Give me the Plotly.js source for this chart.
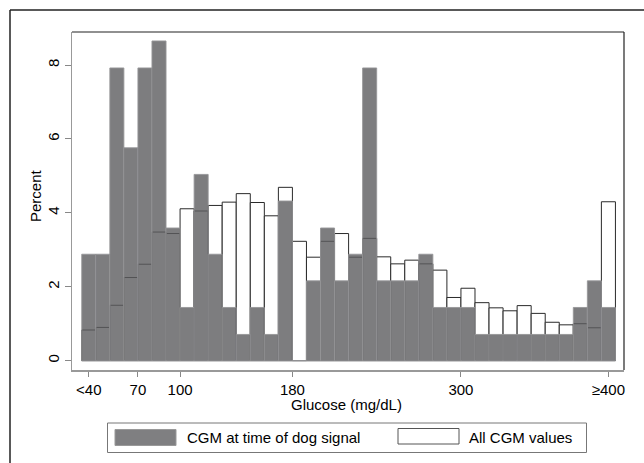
<!DOCTYPE html>
<html>
<head>
<meta charset="utf-8">
<script src="https://cdn.plot.ly/plotly-3.0.1.min.js"></script>
<style>
  html, body { margin: 0; padding: 0; background: #fff; }
  #chart { width: 644px; height: 463px; }
</style>
</head>
<body>
<div id="chart"></div>
<script>
// Bin centres (mg/dL), 10 mg/dL bins from 30 to 410
const binCenters = [35,45,55,65,75,85,95,105,115,125,135,145,155,165,175,185,195,205,215,225,235,245,255,265,275,285,295,305,315,325,335,345,355,365,375,385,395,405];

// Percent of CGM values at time of dog signal
const dogSignalPct = [2.88,2.88,7.92,5.76,7.92,8.65,3.59,1.44,5.04,2.88,1.44,0.71,1.44,0.71,4.32,0,2.16,3.59,2.16,2.88,7.92,2.16,2.16,2.16,2.88,1.44,1.44,1.44,0.71,0.71,0.71,0.71,0.71,0.71,0.71,1.44,2.16,1.44];

// Percent of all CGM values
const allCgmPct = [0.83,0.90,1.50,2.25,2.61,3.48,3.44,4.11,4.05,4.20,4.29,4.52,4.28,3.92,4.69,3.23,2.80,3.23,3.44,2.80,3.31,2.81,2.62,2.72,2.62,2.45,1.71,1.96,1.57,1.43,1.35,1.49,1.28,1.04,0.97,1.00,0.89,4.30];

const xTickVals = [35,70,100,180,300,405];
const xTickText = ['<40','70','100','180','300','≥400'];
const yTickVals = [0,2,4,6,8];

const seriesNames = ['CGM at time of dog signal','All CGM values'];
const xTitle = 'Glucose (mg/dL)';
const yTitle = 'Percent';

const FONT = 'Arial, "Liberation Sans", Helvetica, sans-serif';
const darkFill = 'rgba(92,92,95,0.8)';
const darkSolid = '#7f7f81';

const traces = [
  {
    type: 'bar', name: seriesNames[1], x: binCenters, y: allCgmPct, width: 10,
    marker: { color: '#ffffff', line: { color: '#2a2a2a', width: 1 } },
    showlegend: false, hoverinfo: 'x+y'
  },
  {
    type: 'bar', name: seriesNames[0], x: binCenters, y: dogSignalPct, width: 10,
    marker: { color: darkFill, line: { color: 'rgba(150,150,152,0.9)', width: 1 } },
    showlegend: false, hoverinfo: 'x+y'
  }
];

const L = 72, R = 20, T = 32, B = 93, W = 644, H = 463;
const pw = W - L - R, ph = H - T - B;
const px = v => (v - L) / pw;
const py = v => (H - B - v) / ph;

const shapes = [
  // outer graph frame (left + top)
  { type: 'line', xref: 'paper', yref: 'paper', x0: px(10), x1: px(10), y0: py(10), y1: py(470), line: { color: '#222', width: 1.5 } },
  { type: 'line', xref: 'paper', yref: 'paper', x0: px(10), x1: px(650), y0: py(10), y1: py(10), line: { color: '#222', width: 1.5 } },
  // plot region frame top + right
  { type: 'line', xref: 'paper', yref: 'paper', x0: 0, x1: 1, y0: 1, y1: 1, line: { color: '#222', width: 1.2 } },
  { type: 'line', xref: 'paper', yref: 'paper', x0: 1, x1: 1, y0: 0, y1: 1, line: { color: '#222', width: 1.2 } },
  // legend box
  { type: 'rect', xref: 'paper', yref: 'paper', x0: px(107.5), x1: px(586.5), y0: py(423), y1: py(452.5), line: { color: '#777', width: 1 }, fillcolor: 'rgba(0,0,0,0)' },
  // legend swatches
  { type: 'rect', xref: 'paper', yref: 'paper', x0: px(115), x1: px(176), y0: py(429.5), y1: py(445.5), line: { color: '#999', width: 1 }, fillcolor: darkSolid },
  { type: 'rect', xref: 'paper', yref: 'paper', x0: px(398), x1: px(459), y0: py(428.5), y1: py(444), line: { color: '#555', width: 1 }, fillcolor: '#fff' }
];

const txtFont = { family: FONT, size: 15, color: '#000' };
const annotations = [
  { xref: 'paper', yref: 'paper', x: px(185), y: py(437.5), xanchor: 'left', yanchor: 'middle', showarrow: false, text: seriesNames[0], font: txtFont },
  { xref: 'paper', yref: 'paper', x: px(467), y: py(437.5), xanchor: 'left', yanchor: 'middle', showarrow: false, text: seriesNames[1], font: txtFont },
  { xref: 'paper', yref: 'paper', x: px(346), y: py(404), xanchor: 'center', yanchor: 'middle', showarrow: false, text: xTitle, font: txtFont },
  { xref: 'paper', yref: 'paper', x: px(35), y: py(196), xanchor: 'center', yanchor: 'middle', showarrow: false, text: yTitle, textangle: -90, font: txtFont }
];

const layout = {
  width: W, height: H,
  margin: { l: L, r: R, t: T, b: B, pad: 0 },
  paper_bgcolor: '#fff', plot_bgcolor: '#fff',
  barmode: 'overlay', bargap: 0,
  showlegend: false,
  font: { family: FONT, size: 15, color: '#000' },
  xaxis: {
    range: [23.05, 416.1], autorange: false,
    tickmode: 'array', tickvals: xTickVals, ticktext: xTickText,
    ticks: 'outside', ticklen: 5, tickcolor: '#888', tickwidth: 1,
    showline: true, linecolor: '#999', linewidth: 1.5,
    showgrid: false, zeroline: false,
    tickfont: txtFont,
    automargin: false
  },
  yaxis: {
    range: [-0.252, 8.893], autorange: false,
    tickmode: 'array', tickvals: yTickVals,
    ticks: 'outside', ticklen: 6, tickcolor: '#888', tickwidth: 1,
    tickangle: -90,
    showline: true, linecolor: '#999', linewidth: 1.5,
    showgrid: false, zeroline: false,
    tickfont: txtFont,
    automargin: false
  },
  shapes: shapes,
  annotations: annotations
};

Plotly.newPlot('chart', traces, layout, { displayModeBar: false, staticPlot: true });
</script>
</body>
</html>
